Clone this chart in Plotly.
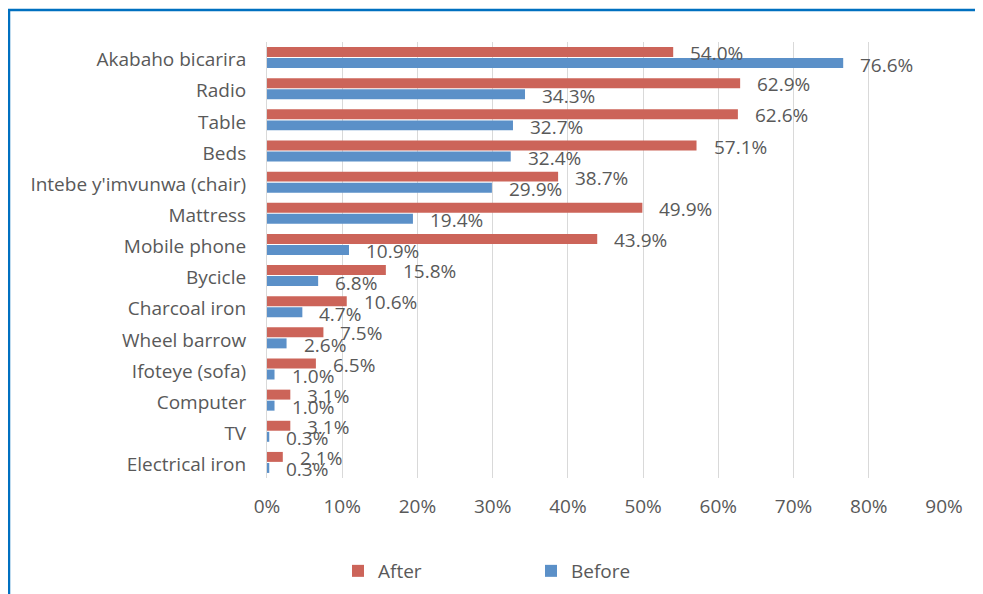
import plotly.graph_objects as go

categories = ["Akabaho bicarira", "Radio", "Table", "Beds", "Intebe y'imvunwa (chair)",
              "Mattress", "Mobile phone", "Bycicle", "Charcoal iron", "Wheel barrow",
              "Ifoteye (sofa)", "Computer", "TV", "Electrical iron"]
after = [0.540, 0.629, 0.626, 0.571, 0.387, 0.499, 0.439, 0.158, 0.106, 0.075, 0.065, 0.031, 0.031, 0.021]
before = [0.766, 0.343, 0.327, 0.324, 0.299, 0.194, 0.109, 0.068, 0.047, 0.026, 0.010, 0.010, 0.003, 0.003]
tick_vals = [0, 0.1, 0.2, 0.3, 0.4, 0.5, 0.6, 0.7, 0.8, 0.9]

RED = "#CC6459"
BLUE = "#5B90C8"
TXT = "#595959"
FONT = "Open Sans"

fig = go.Figure()
fig.add_trace(go.Bar(y=categories, x=after, name="After", orientation="h",
                     marker=dict(color=RED, line=dict(width=0))))
fig.add_trace(go.Bar(y=categories, x=before, name="Before", orientation="h",
                     marker=dict(color=BLUE, line=dict(width=0))))

annotations = []
for c, v in zip(categories, after):
    annotations.append(dict(x=v, y=c, xref="x", yref="y", text=f"{v*100:.1f}%",
                            showarrow=False, xanchor="left", yanchor="middle",
                            xshift=15, yshift=4.5, font=dict(size=19, color=TXT, family=FONT)))
for c, v in zip(categories, before):
    annotations.append(dict(x=v, y=c, xref="x", yref="y", text=f"{v*100:.1f}%",
                            showarrow=False, xanchor="left", yanchor="middle",
                            xshift=15, yshift=-7, font=dict(size=19, color=TXT, family=FONT)))

# page body has an 8px margin, so figure is 8px smaller and coordinates shifted
OFF = 8
W, H = 983 - OFF, 594 - OFF
L, R, T, B = 267 - OFF, 39, 42 - OFF, 116
pw = W - L - R
ph = H - T - B

def px_x(p):
    return (p - OFF - L) / pw

def px_y(p):
    return (H - B - (p - OFF)) / ph

fig.update_layout(
    width=W, height=H,
    margin=dict(l=L, r=R, t=T, b=B, autoexpand=False),
    paper_bgcolor="white", plot_bgcolor="white",
    barmode="group", bargap=0.29, bargroupgap=0.1,
    font=dict(family=FONT, size=19, color=TXT),
    annotations=annotations,
    legend=dict(orientation="h", x=px_x(338), y=px_y(571), xanchor="left", yanchor="middle",
                font=dict(size=19, color=TXT, family=FONT),
                entrywidth=148, entrywidthmode="pixels", itemclick=False),
    xaxis=dict(range=[0, 0.9], tickvals=tick_vals, tickformat=".0%",
               showgrid=True, gridcolor="#D9D9D9", gridwidth=1, zeroline=False,
               showline=False, ticks="", ticklabelstandoff=15,
               tickfont=dict(size=19, color=TXT, family=FONT)),
    yaxis=dict(range=[13.5, -0.5], showgrid=False, zeroline=False,
               showline=True, linecolor="#D9D9D9", linewidth=1, ticks="",
               ticklabelstandoff=16, ticklabelshift=-2,
               tickfont=dict(size=19, color=TXT, family=FONT)),
    shapes=[dict(type="rect", xref="paper", yref="paper",
                 x0=px_x(9), x1=px_x(1000), y0=px_y(620), y1=px_y(10),
                 line=dict(color="#0070C0", width=2.5), fillcolor="rgba(0,0,0,0)",
                 layer="below")],
)

fig.write_html("out.html")
